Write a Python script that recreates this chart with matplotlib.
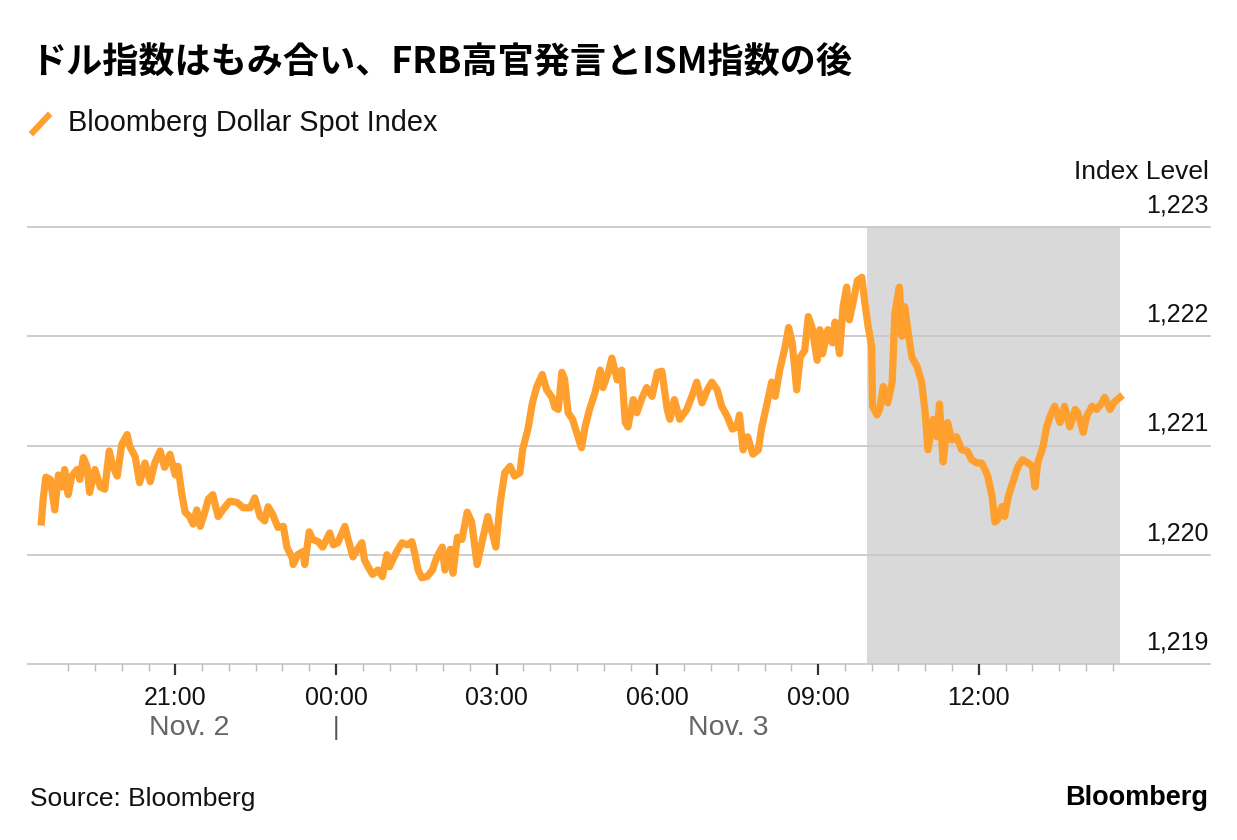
import matplotlib
matplotlib.use("Agg")
import matplotlib.pyplot as plt
import matplotlib.dates as mdates
from matplotlib.lines import Line2D
import pandas as pd

plt.rcParams['font.family'] = ['Liberation Sans', 'Noto Sans CJK JP', 'DejaVu Sans']

# Bloomberg Dollar Spot Index, Nov 2 evening -> Nov 3 afternoon
times_nov2 = ["18:30", "18:32", "18:35", "18:40", "18:45", "18:49", "18:53", "18:56",
              "19:00", "19:04", "19:10", "19:13", "19:17", "19:21", "19:24", "19:30",
              "19:36", "19:41", "19:46", "19:50", "19:55", "20:00", "20:06", "20:09",
              "20:15", "20:20", "20:26", "20:32", "20:37", "20:43", "20:48", "20:54",
              "21:00", "21:03", "21:07", "21:11", "21:16", "21:20", "21:24", "21:28",
              "21:33", "21:37", "21:42", "21:48", "21:53", "22:01", "22:09", "22:16",
              "22:24", "22:29", "22:35", "22:40", "22:44", "22:49", "22:55", "23:01",
              "23:05", "23:11", "23:12", "23:17", "23:23", "23:25", "23:30", "23:34",
              "23:40", "23:45", "23:53", "23:57"]
values_nov2 = [1220.30, 1220.51, 1220.71, 1220.69, 1220.41, 1220.73, 1220.62, 1220.78,
               1220.55, 1220.72, 1220.78, 1220.69, 1220.89, 1220.81, 1220.57, 1220.78,
               1220.62, 1220.60, 1220.95, 1220.81, 1220.72, 1221.01, 1221.10, 1220.99,
               1220.90, 1220.66, 1220.84, 1220.67, 1220.84, 1220.95, 1220.80, 1220.92,
               1220.73, 1220.81, 1220.57, 1220.39, 1220.35, 1220.28, 1220.41, 1220.26,
               1220.39, 1220.51, 1220.55, 1220.35, 1220.41, 1220.49, 1220.48, 1220.43,
               1220.43, 1220.52, 1220.35, 1220.31, 1220.44, 1220.37, 1220.25, 1220.26,
               1220.07, 1219.97, 1219.91, 1220.00, 1220.03, 1219.91, 1220.21, 1220.14,
               1220.12, 1220.07, 1220.20, 1220.09]

times_nov3 = ["00:02", "00:10", "00:13", "00:19", "00:24", "00:29", "00:32", "00:38",
              "00:41", "00:47", "00:52", "00:57", "01:00", "01:08", "01:14", "01:20",
              "01:25", "01:28", "01:32", "01:36", "01:42", "01:48", "01:53", "01:59",
              "02:02", "02:08", "02:11", "02:16", "02:21", "02:27", "02:32", "02:38",
              "02:45", "02:50", "02:56", "02:59", "03:04", "03:09", "03:15", "03:20",
              "03:26", "03:29", "03:35", "03:40", "03:45", "03:51", "03:56", "04:02",
              "04:05", "04:09", "04:13", "04:16", "04:20", "04:25", "04:31", "04:35",
              "04:39", "04:44", "04:50", "04:56", "04:59", "05:05", "05:09", "05:15",
              "05:20", "05:24", "05:27", "05:33", "05:37", "05:43", "05:48", "05:54",
              "06:00", "06:05", "06:11", "06:14", "06:19", "06:25", "06:33", "06:40",
              "06:44", "06:50", "06:56", "07:01", "07:07", "07:12", "07:18", "07:24",
              "07:29", "07:32", "07:36", "07:41", "07:47", "07:53", "07:57", "08:03",
              "08:08", "08:12", "08:17", "08:23", "08:27", "08:31", "08:34", "08:36",
              "08:40", "08:45", "08:49", "08:53", "08:59", "09:02", "09:05", "09:11",
              "09:16", "09:19", "09:24", "09:28", "09:32", "09:35", "09:39", "09:44",
              "09:49", "09:52", "09:56", "10:00", "10:01", "10:06", "10:09", "10:13",
              "10:18", "10:23", "10:26", "10:31", "10:34", "10:37", "10:41", "10:45",
              "10:51", "10:56", "11:00", "11:03", "11:09", "11:13", "11:16", "11:20",
              "11:25", "11:30", "11:35", "11:41", "11:47", "11:52", "11:58", "12:03",
              "12:07", "12:10", "12:15", "12:18", "12:21", "12:26", "12:29", "12:33",
              "12:38", "12:44", "12:49", "12:55", "13:00", "13:03", "13:06", "13:12",
              "13:16", "13:20", "13:25", "13:31", "13:36", "13:42", "13:48", "13:51",
              "13:57", "14:01", "14:07", "14:12", "14:18", "14:21", "14:27", "14:32",
              "14:38"]
values_nov3 = [1220.11, 1220.26, 1220.16, 1219.98, 1220.05, 1220.11, 1219.95, 1219.86,
               1219.82, 1219.86, 1219.80, 1220.00, 1219.89, 1220.03, 1220.11, 1220.09,
               1220.12, 1220.02, 1219.86, 1219.79, 1219.80, 1219.86, 1219.98, 1220.07,
               1219.86, 1220.05, 1219.83, 1220.16, 1220.14, 1220.39, 1220.30, 1219.91,
               1220.17, 1220.35, 1220.17, 1220.07, 1220.48, 1220.75, 1220.81, 1220.72,
               1220.75, 1220.96, 1221.15, 1221.39, 1221.54, 1221.65, 1221.51, 1221.44,
               1221.35, 1221.33, 1221.67, 1221.61, 1221.30, 1221.24, 1221.08, 1220.98,
               1221.17, 1221.33, 1221.48, 1221.69, 1221.53, 1221.67, 1221.80, 1221.60,
               1221.69, 1221.21, 1221.17, 1221.42, 1221.30, 1221.44, 1221.53, 1221.45,
               1221.67, 1221.68, 1221.33, 1221.24, 1221.42, 1221.24, 1221.33, 1221.48,
               1221.58, 1221.39, 1221.51, 1221.58, 1221.51, 1221.36, 1221.27, 1221.15,
               1221.17, 1221.28, 1220.96, 1221.08, 1220.92, 1220.96, 1221.17, 1221.39,
               1221.58, 1221.45, 1221.69, 1221.90, 1222.08, 1221.94, 1221.69, 1221.51,
               1221.81, 1221.87, 1222.18, 1222.09, 1221.78, 1222.06, 1221.84, 1222.06,
               1221.94, 1222.13, 1221.84, 1222.27, 1222.45, 1222.15, 1222.30, 1222.51,
               1222.54, 1222.33, 1222.09, 1221.91, 1221.36, 1221.28, 1221.33, 1221.54,
               1221.39, 1221.58, 1222.21, 1222.45, 1222.00, 1222.27, 1222.03, 1221.81,
               1221.72, 1221.58, 1221.30, 1220.96, 1221.24, 1221.08, 1221.38, 1220.85,
               1221.21, 1221.05, 1221.08, 1220.96, 1220.95, 1220.87, 1220.84, 1220.84,
               1220.78, 1220.72, 1220.53, 1220.30, 1220.32, 1220.44, 1220.35, 1220.53,
               1220.66, 1220.81, 1220.87, 1220.84, 1220.81, 1220.62, 1220.84, 1220.99,
               1221.17, 1221.27, 1221.36, 1221.21, 1221.36, 1221.17, 1221.33, 1221.30,
               1221.12, 1221.27, 1221.36, 1221.33, 1221.39, 1221.44, 1221.33, 1221.40,
               1221.44]

y_ticks = [1219, 1220, 1221, 1222, 1223]
y_tick_labels = ["1,219", "1,220", "1,221", "1,222", "1,223"]
shade_start = "2023-11-03 09:55"

title = "ドル指数はもみ合い、FRB高官発言とISM指数の後"
series_name = "Bloomberg Dollar Spot Index"

# build timestamps
t = pd.to_datetime(["2023-11-02 " + s for s in times_nov2] + ["2023-11-03 " + s for s in times_nov3])
v = values_nov2 + values_nov3

orange = "#ff9f2e"
grid_col = "#c9c9c9"

fig = plt.figure(figsize=(12.37, 8.4), dpi=100)
ax = fig.add_axes([28 / 1237, 176 / 840, 1182 / 1237, 437 / 840])

x_start = pd.Timestamp("2023-11-02 18:15")
x_end = pd.Timestamp("2023-11-03 16:19")
ax.set_xlim(x_start, x_end)
ax.set_ylim(y_ticks[0], y_ticks[-1])

# shaded period after the data release
ax.axvspan(pd.Timestamp(shade_start), t[-1], color="#d9d9d9", lw=0, zorder=0)

for yv in y_ticks:
  ax.axhline(yv, color=grid_col, lw=1.3, zorder=1, clip_on=False)

ax.plot(t, v, color=orange, lw=5.2, solid_joinstyle="round", zorder=3)

for s in ax.spines.values():
  s.set_visible(False)

# right side value labels above the gridlines
ax.set_yticks([])
for yv, lab in zip(y_ticks, y_tick_labels):
  ax.annotate(lab, xy=(1, yv), xycoords=("axes fraction", "data"), xytext=(-1, 7),
              textcoords="offset points", ha="right", va="bottom", fontsize=18, color="#111111")
ax.annotate("Index Level", xy=(1, y_ticks[-1]), xycoords=("axes fraction", "data"), xytext=(-1, 31),
            textcoords="offset points", ha="right", va="bottom", fontsize=19, color="#111111")

# time axis
major = pd.date_range("2023-11-02 21:00", "2023-11-03 12:00", freq="3h")
minor = pd.date_range("2023-11-02 19:00", "2023-11-03 14:30", freq="30min")
ax.set_xticks(major)
ax.set_xticks(minor, minor=True)
ax.xaxis.set_major_formatter(mdates.DateFormatter("%H:%M"))
ax.tick_params(axis="x", which="major", length=8, width=1.6, color="#333333",
               labelsize=18, pad=8, labelcolor="#111111")
ax.tick_params(axis="x", which="minor", length=5, width=1.0, color="#bbbbbb")

# date row
midnight = pd.Timestamp("2023-11-03 00:00")
nov2_mid = t[0] + (midnight - t[0]) / 2
nov3_mid = midnight + (t[-1] - midnight) / 2
ax.annotate("Nov. 2", xy=(nov2_mid, 0), xycoords=("data", "axes fraction"), xytext=(0, -46),
            textcoords="offset points", ha="center", va="center", fontsize=20.5, color="#666666")
ax.annotate("Nov. 3", xy=(nov3_mid, 0), xycoords=("data", "axes fraction"), xytext=(0, -46),
            textcoords="offset points", ha="center", va="center", fontsize=20.5, color="#666666")
ax.annotate("|", xy=(midnight, 0), xycoords=("data", "axes fraction"), xytext=(0, -46),
            textcoords="offset points", ha="center", va="center", fontsize=18, color="#555555")

# title, legend, footer
fig.text(30 / 1237, 1 - 62 / 840, title, fontsize=26, fontweight="bold",
         family=["Noto Sans CJK JP"], va="center", ha="left", color="#000000")
fig.add_artist(Line2D([33 / 1237, 48 / 1237], [1 - 132 / 840, 1 - 116 / 840],
                      color=orange, lw=4.5, transform=fig.transFigure))
fig.text(68 / 1237, 1 - 123 / 840, series_name, fontsize=20.8, va="center", ha="left", color="#111111")
fig.text(30 / 1237, 1 - 799 / 840, "Source: Bloomberg", fontsize=19, va="center", ha="left", color="#111111")
fig.text(1208 / 1237, 1 - 798 / 840, "Bloomberg", fontsize=19.5, fontweight="bold",
         va="center", ha="right", color="#000000")

fig.savefig("out.png", dpi=100, facecolor="white")
